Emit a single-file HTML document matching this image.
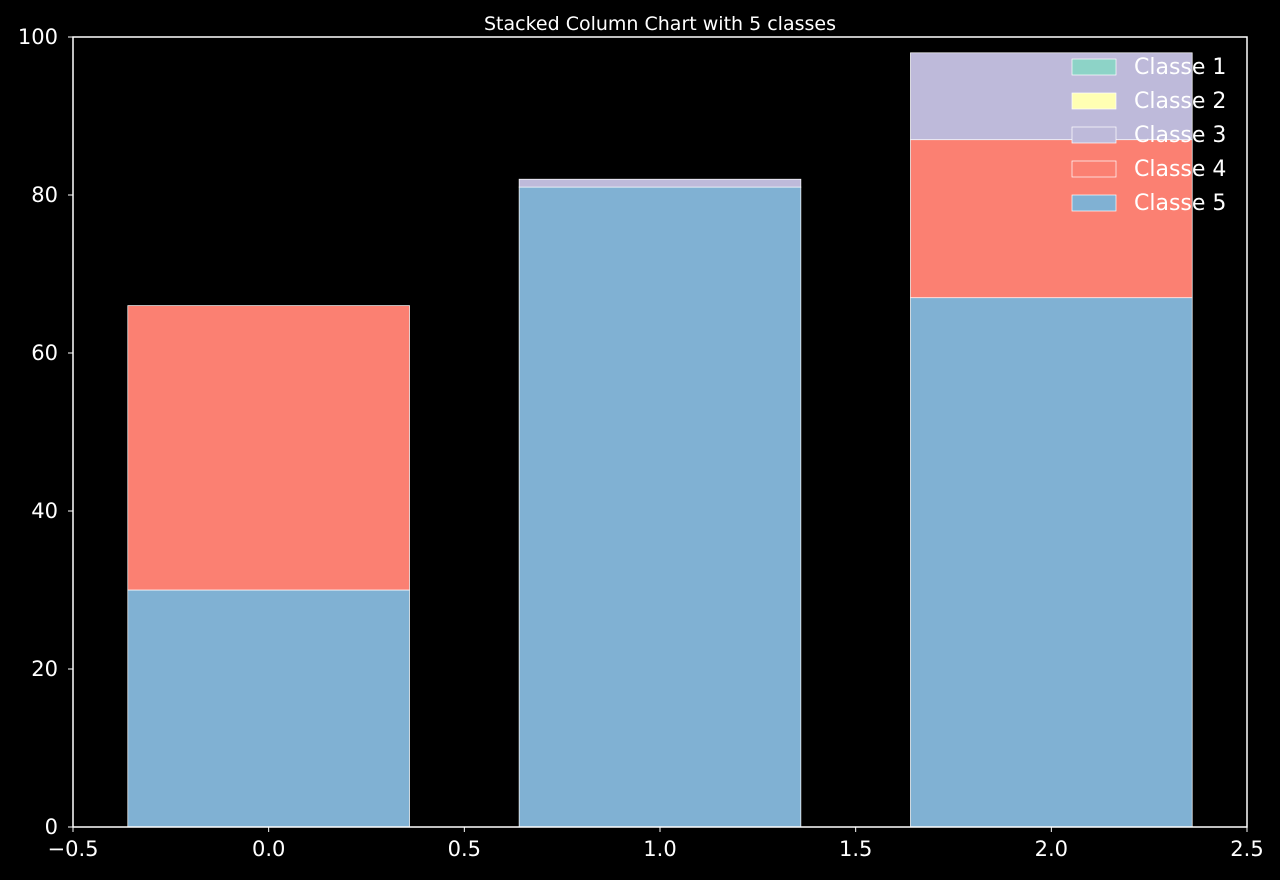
<!DOCTYPE html>
<html><head><meta charset="utf-8"><style>
body{margin:0;background:#000;width:1280px;height:880px;overflow:hidden}
svg{display:block}
svg text{font-family:"DejaVu Sans","Liberation Sans",sans-serif;fill:#fff}
</style></head><body>
<svg id="chart" width="1280" height="880">
<rect width="1280" height="880" fill="#000"/>
<text x="660" y="30" font-size="19" text-anchor="middle">Stacked Column Chart with 5 classes</text>
<g id="bars"></g>
<rect x="73" y="37" width="1174" height="790" fill="none" stroke="#fff" stroke-width="1.5"/>
<g id="axes"></g>
<g id="legend"></g>
</svg>
<script>
const categories=[0,1,2];
const classNames=["Classe 1","Classe 2","Classe 3","Classe 4","Classe 5"];
const classColors=["#8dd3c7","#ffffb3","#bebada","#fb8072","#80b1d3"];
const class1=[0,0,0];
const class2=[0,0,0];
const class3=[0,1,11];
const class4=[36,0,20];
const class5=[30,81,67];
const xTicks=[-0.5,0,0.5,1,1.5,2,2.5];
const xTickLabels=["\u22120.5","0.0","0.5","1.0","1.5","2.0","2.5"];
const yTicks=[0,20,40,60,80,100];
const barWidth=0.72;
const NS="http://www.w3.org/2000/svg";
const X=v=>73+(v+0.5)/3*1174;
const Y=v=>827-v/100*790;
function mk(t,a,p){const e=document.createElementNS(NS,t);for(const k in a)e.setAttribute(k,a[k]);p.appendChild(e);return e;}
const bars=document.getElementById('bars');
const series=[class1,class2,class3,class4,class5];
const stackOrder=[4,3,2,1,0];
categories.forEach((c,i)=>{let base=0;stackOrder.forEach(s=>{const v=series[s][i];if(v<=0)return;
const r=mk('rect',{x:X(c-barWidth/2),y:Y(base+v),width:X(c+barWidth/2)-X(c-barWidth/2),height:Y(base)-Y(base+v),fill:classColors[s],stroke:'#fff','stroke-width':0.7},bars);


base+=v;});});
const axes=document.getElementById('axes');
xTicks.forEach((t,i)=>{mk('line',{x1:X(t),x2:X(t),y1:827,y2:832,stroke:'#fff'},axes);
const tx=mk('text',{x:X(t),y:856,'font-size':21,'text-anchor':'middle'},axes);tx.textContent=xTickLabels[i];

});
yTicks.forEach(t=>{mk('line',{x1:68,x2:73,y1:Y(t),y2:Y(t),stroke:'#fff'},axes);
const tx=mk('text',{x:58,y:Y(t)+7,'font-size':21,'text-anchor':'end'},axes);tx.textContent=t;

});
const lg=document.getElementById('legend');
classNames.forEach((n,i)=>{const y=67+i*34;
const g=mk('g',{},lg);


mk('rect',{x:1072,y:y-8,width:44,height:16,fill:classColors[i],stroke:'#fff','stroke-width':0.7},g);
const t=mk('text',{x:1134,y:y+7,'font-size':22},g);t.textContent=n;});
</script>
</body></html>
